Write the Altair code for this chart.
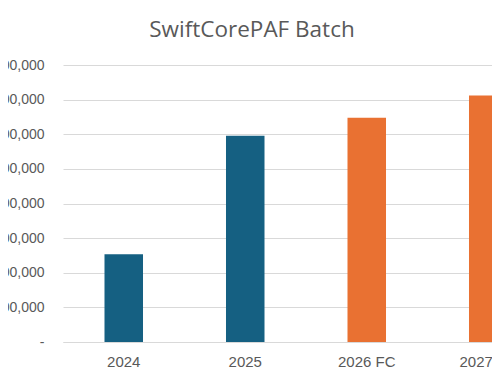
import altair as alt
import pandas as pd

categories = ["2024", "2025", "2026 FC", "2027 FC"]
values = [253500, 596000, 647600, 712000]
kinds = ["Actual", "Actual", "Forecast", "Forecast"]
y_ticks = [0, 100000, 200000, 300000, 400000, 500000, 600000, 700000, 800000]

df = pd.DataFrame({"year": categories, "value": values, "kind": kinds})

FONT = "Liberation Sans"
TITLE_FONT = "Open Sans"
GRAY = "#595959"
GRID = "#D9D9D9"

bars = alt.Chart(df).mark_bar().encode(
    x=alt.X(
        "year:N",
        sort=categories,
        title=None,
        scale=alt.Scale(paddingInner=0.683, paddingOuter=0.3415),
        axis=alt.Axis(
            labelAngle=0,
            labelFontSize=15,
            labelColor=GRAY,
            labelFont=FONT,
            labelPadding=12,
            ticks=False,
            domain=True,
            domainColor=GRID,
            domainWidth=1,
            grid=False,
        ),
    ),
    y=alt.Y(
        "value:Q",
        title=None,
        scale=alt.Scale(domain=[0, 800000], nice=False),
        axis=alt.Axis(
            values=y_ticks,
            labelExpr="datum.value == 0 ? '-\u00a0\u00a0' : format(datum.value, ',')",
            labelFontSize=14,
            labelColor=GRAY,
            labelFont=FONT,
            labelPadding=19,
            ticks=False,
            domain=False,
            grid=True,
            gridColor=GRID,
            gridWidth=1,
        ),
    ),
    color=alt.Color(
        "kind:N",
        scale=alt.Scale(domain=["Actual", "Forecast"], range=["#156082", "#E97132"]),
        legend=None,
    ),
)

chart = bars.properties(
    width=486,
    height=277,
    title=alt.TitleParams(
        "SwiftCorePAF Batch",
        fontSize=22.5,
        font=TITLE_FONT,
        fontWeight="normal",
        color=GRAY,
        anchor="middle",
        dx=-54,
        offset=17,
    ),
    autosize=alt.AutoSizeParams(type="none"),
    padding={"left": 55, "top": 57, "right": -57, "bottom": 31},
).configure_view(stroke=None)

chart.save("out.html", embed_options={"renderer": "svg", "actions": False})
